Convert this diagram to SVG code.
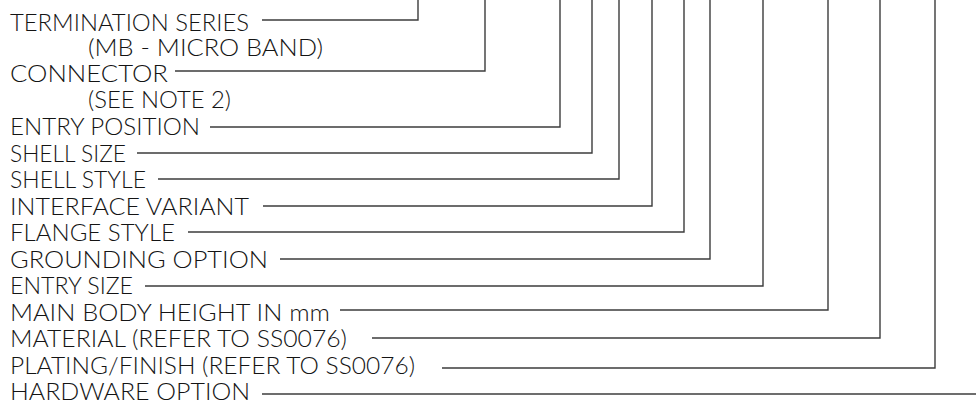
<svg xmlns="http://www.w3.org/2000/svg" width="976" height="406" viewBox="0 0 976 406">
<style>
.t{font-family:"Lato","Open Sans","Liberation Sans",sans-serif;font-size:23px;font-weight:300;fill:#141414;}
.c{fill:none;stroke:#3c3c3c;stroke-width:1.4;}
</style>
<rect width="976" height="406" fill="#fff"/>
<g id="connectors">
<polyline class="c" points="262,20 418,20 418,0"/>
<polyline class="c" points="175,71 485,71 485,0"/>
<polyline class="c" points="210,127 560,127 560,0"/>
<polyline class="c" points="137,153 592,153 592,0"/>
<polyline class="c" points="158,179 619,179 619,0"/>
<polyline class="c" points="263,206 652,206 652,0"/>
<polyline class="c" points="188,232 684,232 684,0"/>
<polyline class="c" points="280,259 710,259 710,0"/>
<polyline class="c" points="145,286 763,286 763,0"/>
<polyline class="c" points="340,310 828,310 828,0"/>
<polyline class="c" points="372,338 880,338 880,0"/>
<polyline class="c" points="442,368 935,368 935,0"/>
<polyline class="c" points="262,394 976,394"/>
</g>
<g id="termination-series"><text class="t" x="10" y="30.5" textLength="239" lengthAdjust="spacingAndGlyphs">TERMINATION SERIES</text>
<text class="t" x="88" y="56" textLength="235" lengthAdjust="spacingAndGlyphs">(MB - MICRO BAND)</text></g>
<g id="connector"><text class="t" x="10" y="82" textLength="158" lengthAdjust="spacingAndGlyphs">CONNECTOR</text>
<text class="t" x="88" y="108" textLength="143" lengthAdjust="spacingAndGlyphs">(SEE NOTE 2)</text></g>
<g id="entry-position"><text class="t" x="10" y="135" textLength="190" lengthAdjust="spacingAndGlyphs">ENTRY POSITION</text></g>
<g id="shell-size"><text class="t" x="10" y="161.5" textLength="116" lengthAdjust="spacingAndGlyphs">SHELL SIZE</text></g>
<g id="shell-style"><text class="t" x="10" y="188" textLength="136" lengthAdjust="spacingAndGlyphs">SHELL STYLE</text></g>
<g id="interface-variant"><text class="t" x="10" y="214.5" textLength="239" lengthAdjust="spacingAndGlyphs">INTERFACE VARIANT</text></g>
<g id="flange-style"><text class="t" x="10" y="241" textLength="165" lengthAdjust="spacingAndGlyphs">FLANGE STYLE</text></g>
<g id="grounding-option"><text class="t" x="10" y="267.5" textLength="258" lengthAdjust="spacingAndGlyphs">GROUNDING OPTION</text></g>
<g id="entry-size"><text class="t" x="10" y="294" textLength="123" lengthAdjust="spacingAndGlyphs">ENTRY SIZE</text></g>
<g id="main-body-height"><text class="t" x="10" y="320.5" textLength="320" lengthAdjust="spacingAndGlyphs">MAIN BODY HEIGHT IN mm</text></g>
<g id="material"><text class="t" x="10" y="347" textLength="337" lengthAdjust="spacingAndGlyphs">MATERIAL (REFER TO SS0076)</text></g>
<g id="plating-finish"><text class="t" x="10" y="373.5" textLength="405" lengthAdjust="spacingAndGlyphs">PLATING/FINISH (REFER TO SS0076)</text></g>
<g id="hardware-option"><text class="t" x="10" y="400" textLength="240" lengthAdjust="spacingAndGlyphs">HARDWARE OPTION</text></g>
</svg>
